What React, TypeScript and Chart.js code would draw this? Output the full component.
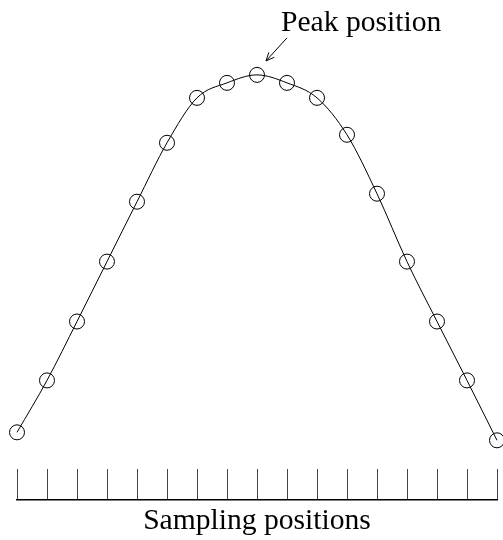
import React, { useEffect, useRef } from "react";
import { Chart, registerables } from "chart.js";

Chart.register(...registerables);

// Sampling positions (index along the axis)
const samplePositions: number[] = [0, 1, 2, 3, 4, 5, 6, 7, 8, 9, 10, 11, 12, 13, 14, 15, 16];
// Sampled values (arbitrary intensity units)
const sampleValues: number[] = [37, 89, 148, 208, 268, 327, 372, 387, 395, 387, 372, 335, 276, 208, 148, 89, 29];

const xMin = 0;
const xMax = 16;
const yMin = 0;
const yMax = 470;

const axisTitle = "Sampling positions";
const peakLabel = "Peak position";

const serif = "'Liberation Serif', 'Times New Roman', Times, serif";

const peakAnnotation = {
  id: "peakAnnotation",
  afterDatasetsDraw(chart: any) {
    const meta = chart.getDatasetMeta(0);
    let peakIdx = 0;
    sampleValues.forEach((v, i) => {
      if (v > sampleValues[peakIdx]) peakIdx = i;
    });
    const pt = meta.data[peakIdx];
    if (!pt) return;
    const px = pt.x;
    const py = pt.y;
    const ctx = chart.ctx;
    ctx.save();
    // label
    ctx.fillStyle = "#000";
    ctx.font = `29.6px ${serif}`;
    ctx.textBaseline = "alphabetic";
    ctx.textAlign = "left";
    ctx.fillText(peakLabel, px + 24, py - 44);
    // arrow
    const tx = px + 30;
    const ty = py - 37;
    const hx = px + 9;
    const hy = py - 14;
    ctx.strokeStyle = "#000";
    ctx.lineWidth = 1;
    ctx.beginPath();
    ctx.moveTo(tx, ty);
    ctx.lineTo(hx, hy);
    const ang = Math.atan2(hy - ty, hx - tx);
    const len = 9;
    const spread = (24 * Math.PI) / 180;
    ctx.moveTo(hx - len * Math.cos(ang - spread), hy - len * Math.sin(ang - spread));
    ctx.lineTo(hx, hy);
    ctx.lineTo(hx - len * Math.cos(ang + spread), hy - len * Math.sin(ang + spread));
    ctx.stroke();
    ctx.restore();
  },
};

export default function App() {
  const canvasRef = useRef<HTMLCanvasElement | null>(null);

  useEffect(() => {
    if (!canvasRef.current) return;
    const chart = new Chart(canvasRef.current, {
      type: "line",
      data: {
        datasets: [
          {
            data: samplePositions.map((x, i) => ({ x, y: sampleValues[i] })),
            borderColor: "#000",
            borderWidth: 1,
            backgroundColor: "rgba(0,0,0,0)",
            pointBorderColor: "#000",
            pointBackgroundColor: "rgba(0,0,0,0)",
            pointBorderWidth: 1,
            pointRadius: 7.5,
            pointHoverRadius: 7.5,
            cubicInterpolationMode: "monotone",
            fill: false,
            clip: false,
          } as any,
        ],
      },
      options: {
        responsive: true,
        maintainAspectRatio: false,
        animation: false,
        events: [],
        layout: { autoPadding: false, padding: { left: 17, right: 6, top: 0, bottom: 0 } },
        plugins: {
          legend: { display: false },
          tooltip: { enabled: false },
          title: { display: false },
        },
        scales: {
          x: {
            type: "linear",
            position: "bottom",
            weight: 0,
            min: xMin,
            max: xMax,
            ticks: { display: false, stepSize: 1 },
            border: { display: false },
            grid: {
              display: true,
              drawOnChartArea: false,
              drawTicks: true,
              tickLength: 30,
              color: "#444",
              lineWidth: 1,
            },
          },
          x2: {
            type: "linear",
            position: "bottom",
            weight: 1,
            min: xMin,
            max: xMax,
            ticks: { display: false },
            border: { display: true, color: "#000", width: 1.5 },
            grid: { display: false, drawTicks: false },
            title: {
              display: true,
              text: axisTitle,
              color: "#000",
              font: { family: serif, size: 29.6 },
              padding: { top: 3.8, bottom: 1.4 },
            },
          },
          y: {
            type: "linear",
            display: false,
            min: yMin,
            max: yMax,
          },
        },
      } as any,
      plugins: [peakAnnotation],
    });
    return () => chart.destroy();
  }, []);

  return (
    <div style={{ position: "fixed", left: 0, top: 0, width: 503, height: 540, background: "#fff" }}>
      <canvas ref={canvasRef} />
    </div>
  );
}
